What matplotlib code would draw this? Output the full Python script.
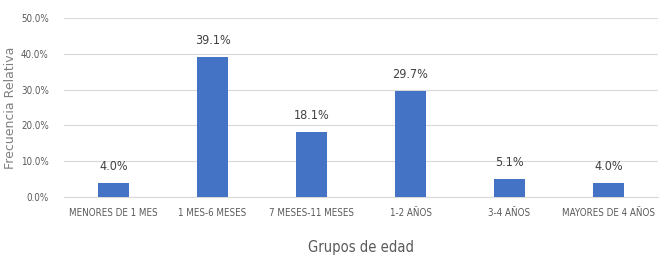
import matplotlib.pyplot as plt
from matplotlib.ticker import FuncFormatter

# datos
grupos = ['MENORES DE 1 MES', '1 MES-6 MESES', '7 MESES-11 MESES', '1-2 AÑOS', '3-4 AÑOS', 'MAYORES DE 4 AÑOS']
frecuencia = [4.0, 39.1, 18.1, 29.7, 5.1, 4.0]
ticks_y = [0, 10, 20, 30, 40, 50]

plt.rcParams['font.family'] = ['Liberation Sans Narrow', 'DejaVu Sans']
plt.rcParams['font.stretch'] = 'condensed'

fig = plt.figure(figsize=(6.61, 2.60), dpi=100)
ax = fig.add_axes([64 / 661, 63 / 260, 594 / 661, 179 / 260])

x = range(len(grupos))
barras = ax.bar(x, frecuencia, width=0.31, color='#4472C4', zorder=3)

# etiquetas de valor
for b, v in zip(barras, frecuencia):
    ax.text(b.get_x() + b.get_width() / 2, v + 2.8, f'{v:.1f}%', ha='center', va='bottom',
            fontsize=9, color='#404040')

ax.set_xlim(-0.5, 5.5)
ax.set_ylim(0, 50)
ax.set_yticks(ticks_y)
ax.yaxis.set_major_formatter(FuncFormatter(lambda v, p: f'{v:.1f}%'))
ax.set_xticks(list(x))
ax.set_xticklabels(grupos)
ax.tick_params(axis='both', length=0, labelsize=7, colors='#595959')
ax.tick_params(axis='x', pad=8)
ax.tick_params(axis='y', labelsize=7, pad=11)

ax.grid(axis='y', color='#d9d9d9', linewidth=0.8, zorder=0)
for s in ['top', 'right', 'left']:
    ax.spines[s].set_visible(False)
ax.spines['bottom'].set_color('#d9d9d9')

ax.set_xlabel('Grupos de edad', fontsize=10.5, color='#595959', labelpad=16)
ax.set_ylabel('Frecuencia Relativa', fontsize=9, color='#808080',
              family=['DejaVu Sans'], stretch='normal', va='center')
ax.yaxis.set_label_coords(-0.09, 0.5)

fig.savefig('out.png', dpi=100)
